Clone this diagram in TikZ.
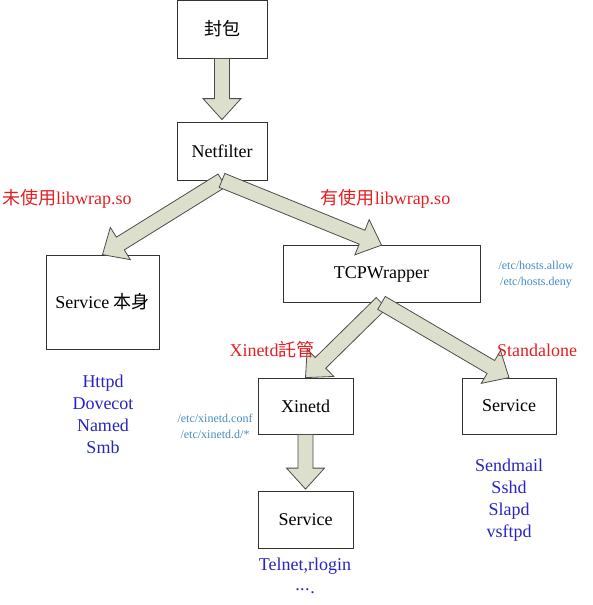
\documentclass[tikz,border=0pt]{standalone}
\usepackage{fontspec}
\setmainfont{Liberation Serif}
\newfontfamily\cjk{Noto Sans CJK TC}
\usetikzlibrary{calc}
\definecolor{arrowfill}{RGB}{220,223,203}
\definecolor{labred}{RGB}{226,32,36}
\definecolor{listblue}{RGB}{40,36,190}
\definecolor{pathblue}{RGB}{70,140,190}
\tikzset{
  box/.style={draw=black!80, line width=0.8pt, fill=white, inner sep=0pt, font=\fontsize{18}{22}\selectfont},
  barrow/.style={draw=black!70, line width=0.8pt, fill=arrowfill, line join=miter},
  redlabel/.style={text=labred, inner sep=0pt, font=\fontsize{18}{22}\selectfont},
  bluelist/.style={text=listblue, inner sep=0pt, align=center, font=\fontsize{18}{22}\selectfont},
  pathlabel/.style={text=pathblue, inner sep=0pt, align=center, font=\fontsize{12}{16}\selectfont},
}
\newcommand\blockarrow[2]{%
  \coordinate (ba-h) at ($(#2)!21pt!(#1)$);
  \draw[barrow] ($(#1)!7.5pt!90:(#2)$) -- ($(ba-h)!7.5pt!90:(#2)$) -- ($(ba-h)!19pt!90:(#2)$) -- (#2)
     -- ($(ba-h)!19pt!-90:(#2)$) -- ($(ba-h)!7.5pt!-90:(#2)$) -- ($(#1)!7.5pt!-90:(#2)$) -- cycle;}
\begin{document}
\begin{tikzpicture}[x=1pt,y=-1pt]
\useasboundingbox (0,0) rectangle (592,605);
% boxes
\node[box, minimum width=90pt, minimum height=58pt] (pkt) at (222,29) {{\cjk 封包}};
\node[box, minimum width=90pt, minimum height=58pt] (net) at (222,151) {Netfilter};
\node[box, minimum width=113pt, minimum height=94pt] (svc1) at (102.5,302) {Service {\cjk 本身}};
\node[box, minimum width=197pt, minimum height=57pt] (tcp) at (381.5,274) {TCPWrapper};
\node[box, minimum width=95pt, minimum height=56pt] (xin) at (305.5,406) {Xinetd};
\node[box, minimum width=94pt, minimum height=56pt] (svc2) at (509,406) {Service};
\node[box, minimum width=95pt, minimum height=57pt] (svc3) at (305.5,520) {Service};
% arrows
\coordinate (pktEnd) at ([yshift=2pt]net.north);
\coordinate (xinEnd) at ([yshift=2pt]svc3.north);
\blockarrow{pkt.south}{pktEnd}
\blockarrow{net.south}{svc1.north}
\blockarrow{net.south}{tcp.north}
\blockarrow{tcp.south}{xin.north}
\blockarrow{tcp.south}{svc2.north}
\blockarrow{xin.south}{xinEnd}
% labels
\node[redlabel, anchor=west] (l1) at (2,199) {{\cjk 未使用}libwrap.so};
\node[redlabel] (l2) at (385.5,199) {{\cjk 有使用}libwrap.so};
\node[redlabel] (l3) at (272,350) {Xinetd{\cjk 託管}};
\node[redlabel] (l4) at (537,350) {Standalone};
\node[pathlabel] (p1) at (536,275) {/etc/hosts.allow\\/etc/hosts.deny};
\node[pathlabel] (p2) at (215,426) {/etc/xinetd.conf\\/etc/xinetd.d/*};
\node[bluelist] (b1) at (103,414) {Httpd\\Dovecot\\Named\\Smb};
\node[bluelist] (b2) at (509,500) {Sendmail\\Sshd\\Slapd\\vsftpd};
\node[bluelist, font=\fontsize{18}{23}\selectfont] (b3) at (305,576) {Telnet,rlogin\\\raisebox{3.5pt}{.\kern0.5pt.\kern0.5pt.}\kern0.5pt.};
\end{tikzpicture}
\end{document}
